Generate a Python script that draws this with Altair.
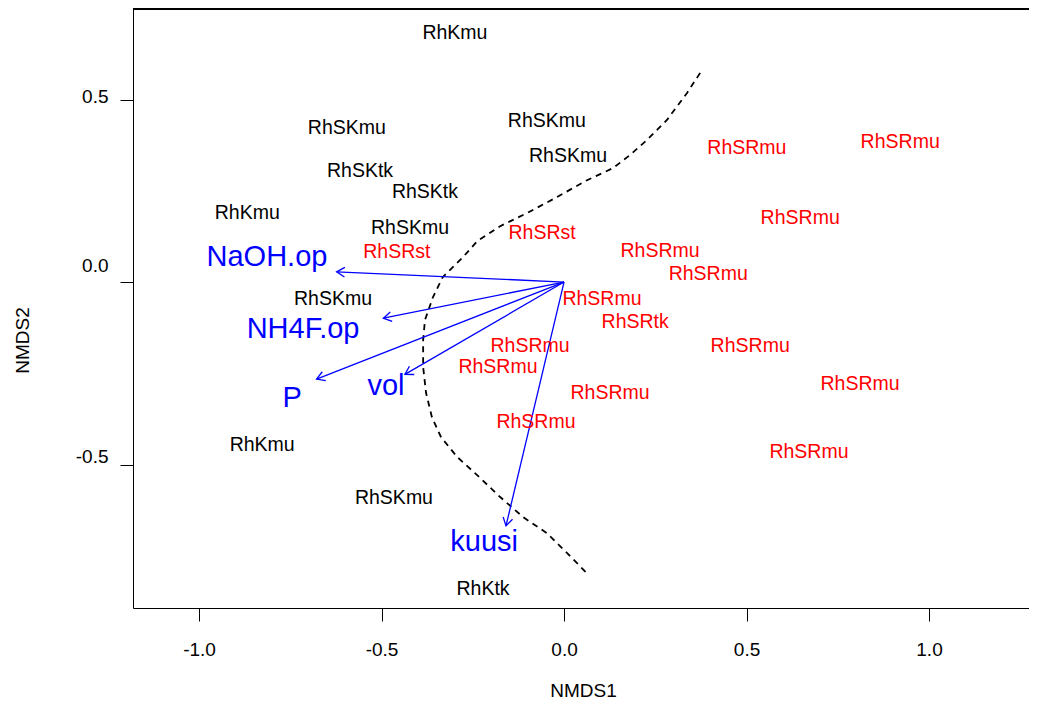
import math
import altair as alt
import pandas as pd

# ---- site scores (labels drawn as text) ----
site_labels = ["RhKmu", "RhSKmu", "RhSKmu", "RhSKmu", "RhSKtk", "RhSKtk", "RhKmu",
               "RhSKmu", "RhSKmu", "RhKmu", "RhSKmu", "RhKtk",
               "RhSRst", "RhSRst", "RhSRmu", "RhSRmu", "RhSRmu", "RhSRmu", "RhSRmu",
               "RhSRmu", "RhSRtk", "RhSRmu", "RhSRmu", "RhSRmu", "RhSRmu", "RhSRmu",
               "RhSRmu", "RhSRmu"]
site_x = [-0.299, -0.595, -0.047, 0.011, -0.559, -0.381, -0.868,
          -0.422, -0.633, -0.827, -0.466, -0.222,
          -0.458, -0.060, 0.501, 0.921, 0.647, 0.263, 0.395,
          0.104, 0.195, -0.093, -0.181, 0.510, 0.811, 0.126,
          -0.077, 0.671]
site_y = [0.682, 0.422, 0.441, 0.345, 0.304, 0.247, 0.189,
          0.148, -0.047, -0.447, -0.592, -0.841,
          0.082, 0.134, 0.367, 0.384, 0.175, 0.085, 0.022,
          -0.047, -0.110, -0.175, -0.233, -0.175, -0.279, -0.304,
          -0.384, -0.466]
site_group = ["K"] * 12 + ["SR"] * 16

# ---- environmental vectors ----
vec_names = ["NaOH.op", "NH4F.op", "P", "vol", "kuusi"]
vec_x = [-0.623, -0.495, -0.678, -0.436, -0.159]
vec_y = [0.028, -0.099, -0.266, -0.253, -0.668]
vec_lab_x = [-0.814, -0.715, -0.745, -0.488, -0.219]
vec_lab_y = [0.068, -0.129, -0.318, -0.285, -0.712]

# ---- dashed boundary curve ----
curve_x = [0.373, 0.337, 0.282, 0.227, 0.181, 0.134, 0.063, -0.019, -0.101, -0.175,
           -0.238, -0.277, -0.332, -0.359, -0.381, -0.386, -0.386, -0.378, -0.362,
           -0.337, -0.293, -0.238, -0.175, -0.112, -0.047, 0.008, 0.060]
curve_y = [0.573, 0.518, 0.444, 0.389, 0.348, 0.312, 0.279, 0.233, 0.189, 0.153,
           0.112, 0.068, 0.014, -0.041, -0.104, -0.159, -0.233, -0.304, -0.370,
           -0.425, -0.479, -0.529, -0.589, -0.644, -0.688, -0.742, -0.795]

x_ticks = [-1.0, -0.5, 0.0, 0.5, 1.0]
y_ticks = [-0.5, 0.0, 0.5]

FONT = "Liberation Sans"
W, H = 896, 599
x_dom = [-1.181, 1.274]
y_dom = [-0.893, 0.748]

sites = pd.DataFrame({"label": site_labels, "x": site_x, "y": site_y, "group": site_group})
vecs = pd.DataFrame({
    "name": vec_names, "x": vec_x, "y": vec_y, "lx": vec_lab_x, "ly": vec_lab_y,
    "x0": [0.0] * len(vec_names), "y0": [0.0] * len(vec_names),
})
vecs["angle"] = [(math.degrees(math.atan2(-yy, xx)) + 360) % 360 for xx, yy in zip(vec_x, vec_y)]
curve = pd.DataFrame({"x": curve_x, "y": curve_y, "i": list(range(len(curve_x)))})

lab_expr = "(datum.value < 0 ? '-' : '') + format(abs(datum.value), '.1f')"

xs = alt.Scale(domain=x_dom, nice=False, zero=False)
ys = alt.Scale(domain=y_dom, nice=False, zero=False)

x_axis = alt.Axis(values=x_ticks, labelExpr=lab_expr, grid=False, tickSize=13,
                  tickColor="black", domainColor="black", labelColor="black",
                  labelFont=FONT, labelFontSize=19, labelPadding=19,
                  title="NMDS1", titleFont=FONT, titleFontSize=19, titleFontWeight="normal",
                  titleColor="black", titleX=450, titleY=82, titleBaseline="middle",
                  titleAlign="center")
y_axis = alt.Axis(values=y_ticks, labelExpr=lab_expr, grid=False, tickSize=13,
                  tickColor="black", domainColor="black", labelColor="black",
                  labelFont=FONT, labelFontSize=19, labelPadding=12,
                  labelOffset={"condition": [{"test": "datum.value == 0", "value": -17},
                                             {"test": "datum.value < 0", "value": -8}],
                               "value": -3},
                  title="NMDS2", titleFont=FONT, titleFontSize=19, titleFontWeight="normal",
                  titleColor="black", titleX=-111, titleY=331, titleAngle=270,
                  titleAlign="center", titleBaseline="middle")

base_axes = alt.Chart(sites).mark_point(opacity=0).encode(
    x=alt.X("x:Q", scale=xs, axis=x_axis),
    y=alt.Y("y:Q", scale=ys, axis=y_axis),
)

site_text = alt.Chart(sites).mark_text(font=FONT, fontSize=19.5, baseline="middle",
                                       align="center").encode(
    x=alt.X("x:Q", scale=xs),
    y=alt.Y("y:Q", scale=ys),
    text="label:N",
    color=alt.Color("group:N", scale=alt.Scale(domain=["K", "SR"], range=["#000000", "#ff0000"]),
                    legend=None),
)

curve_line = alt.Chart(curve).mark_line(color="black", strokeWidth=1.8,
                                        strokeDash=[6, 5]).encode(
    x=alt.X("x:Q", scale=xs),
    y=alt.Y("y:Q", scale=ys),
    order=alt.Order("i:Q"),
)

arrows = alt.Chart(vecs).mark_rule(color="#0000ff", strokeWidth=1.3).encode(
    x=alt.X("x0:Q", scale=xs),
    y=alt.Y("y0:Q", scale=ys),
    x2="x:Q",
    y2="y:Q",
)

heads = alt.Chart(vecs).mark_point(
    shape="M -1 -0.6 L 0 0 L -1 0.6", filled=False, size=256, stroke="#0000ff",
    strokeWidth=1.3, opacity=1,
).encode(
    x=alt.X("x:Q", scale=xs),
    y=alt.Y("y:Q", scale=ys),
    angle=alt.Angle("angle:Q", scale=None),
)

vec_text = alt.Chart(vecs).mark_text(font=FONT, fontSize=29, color="#0000ff",
                                     baseline="middle", align="center").encode(
    x=alt.X("lx:Q", scale=xs),
    y=alt.Y("ly:Q", scale=ys),
    text="name:N",
)

top_line = alt.Chart(sites).mark_rule(color="black", strokeWidth=1).encode(
    x=alt.value(0), x2=alt.value(W), y=alt.value(0)
)

chart = alt.layer(base_axes, curve_line, arrows, heads, site_text, vec_text, top_line).properties(
    width=W, height=H,
    autosize=alt.AutoSizeParams(type="none"),
    padding={"left": 125, "top": 1, "right": 0, "bottom": 93},
).configure_view(stroke=None).configure(background="white")

chart.save("out.html", embed_options={"renderer": "svg", "actions": False})
